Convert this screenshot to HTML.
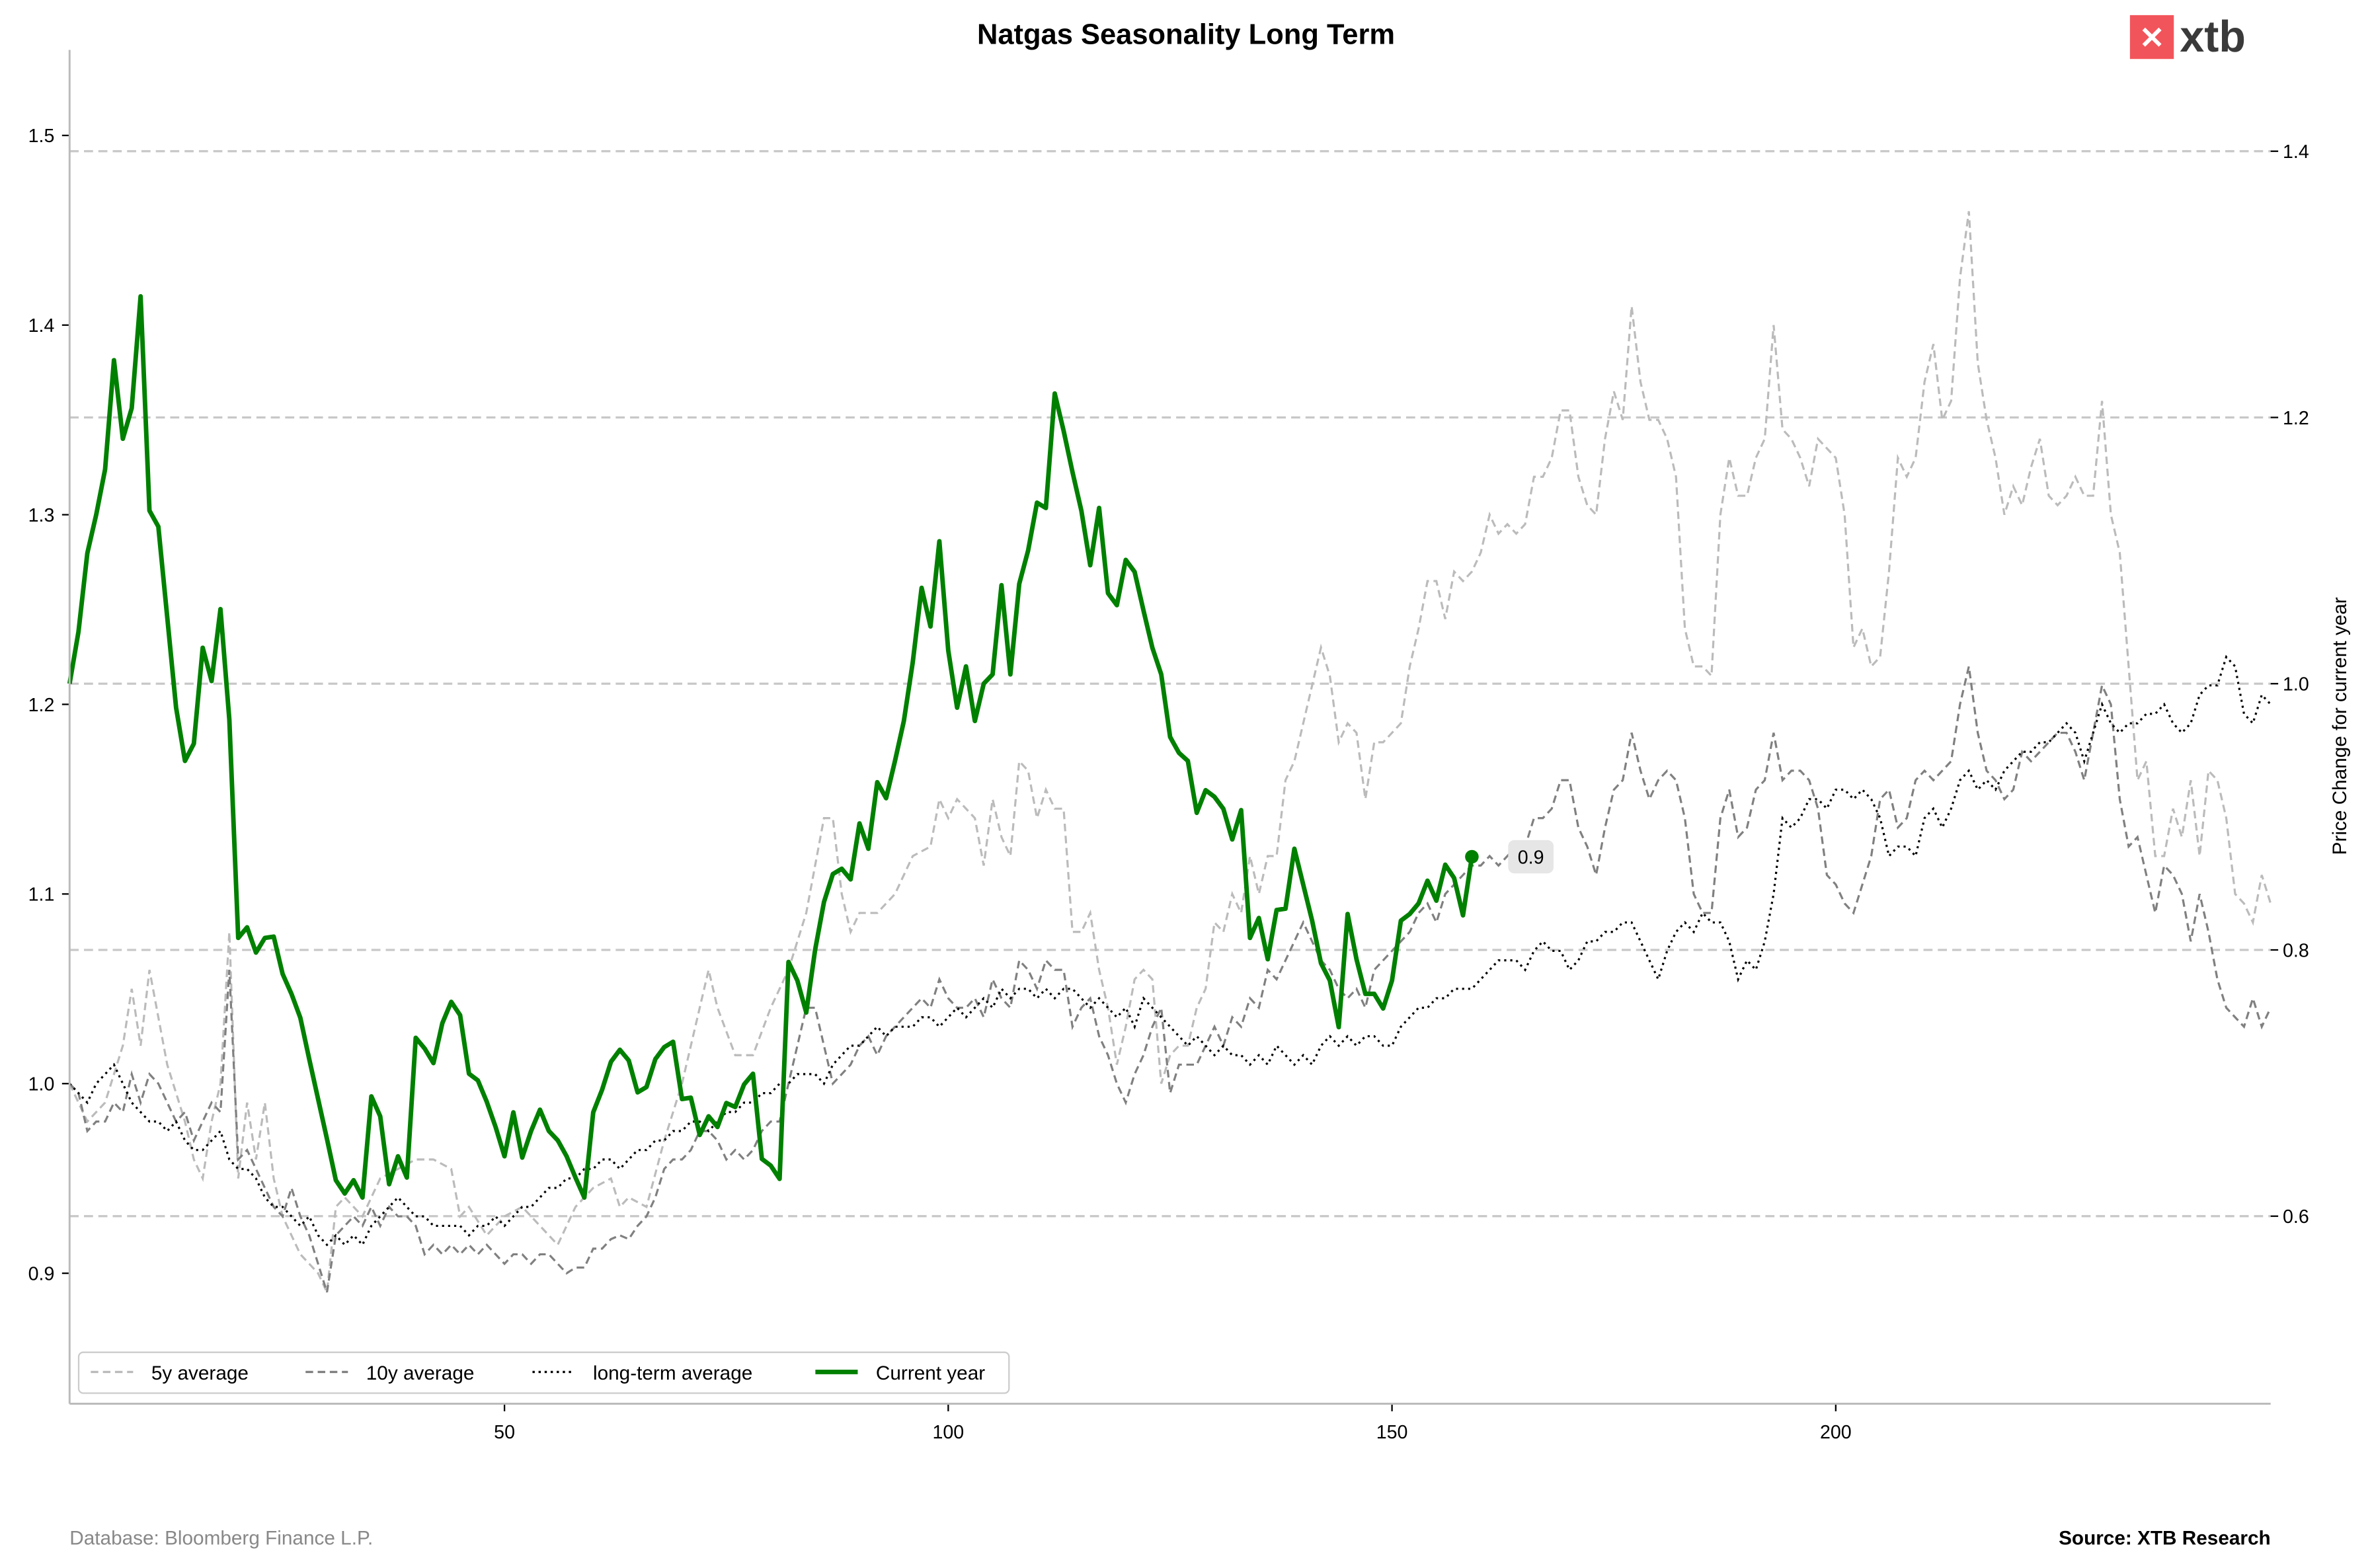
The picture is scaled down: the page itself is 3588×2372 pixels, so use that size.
<!DOCTYPE html>
<html><head><meta charset="utf-8"><style>
html,body{margin:0;padding:0;background:#fff;}
svg{display:block;font-family:"Liberation Sans",Arial,sans-serif;}
</style></head><body>
<svg id="chart" width="3588" height="2372" viewBox="0 0 1568 1036.6" xmlns="http://www.w3.org/2000/svg">
<rect width="1568" height="1036.6" fill="#fff"/>
<text x="784" y="29" text-anchor="middle" font-size="19" font-weight="bold" fill="#000">Natgas Seasonality Long Term</text>
<g>
<rect x="1408" y="10" width="29" height="29" fill="#f2545b"/>
<text x="1422.5" y="32" text-anchor="middle" font-size="20" font-weight="bold" fill="#fff">✕</text>
<text x="1441" y="34" font-size="29" font-weight="bold" fill="#3a3a3a">xtb</text>
</g>
<g id="grid"></g>
<g id="series"></g>
<g id="axes"></g>
<text transform="translate(1551,480) rotate(-90)" text-anchor="middle" font-size="13" fill="#000">Price Change for current year</text>
<g>
<rect x="52" y="894" width="615" height="27" rx="3" fill="#fff" stroke="#ccc" stroke-width="1"/>
<g><line x1="60" y1="907" x2="88" y2="907" stroke="#bbb" stroke-width="1.5" stroke-dasharray="5,3"/><text x="100" y="912" font-size="13">5y average</text></g>
<g><line x1="202" y1="907" x2="230" y2="907" stroke="#808080" stroke-width="1.5" stroke-dasharray="5,3"/><text x="242" y="912" font-size="13">10y average</text></g>
<g><line x1="352" y1="907" x2="380" y2="907" stroke="#000" stroke-width="1.5" stroke-dasharray="1.5,2.5"/><text x="392" y="912" font-size="13">long-term average</text></g>
<g><line x1="539" y1="907" x2="567" y2="907" stroke="#008000" stroke-width="3"/><text x="579" y="912" font-size="13">Current year</text></g>
</g>
<text x="46" y="1021" font-size="13" fill="#888">Database: Bloomberg Finance L.P.</text>
<text x="1501" y="1021" text-anchor="end" font-size="13" font-weight="bold" fill="#000">Source: XTB Research</text>
</svg>
<script>
const avgDays5y = [1,3,5,7,8,9,10,12,14,15,16,17,18,19,20,21,22,23,24,25,26,27,28,29,30,31,32,34,36,38,40,42,44,45,46,48,50,52,54,56,58,60,62,63,64,66,68,70,72,73,74,76,78,80,82,84,86,87,88,89,90,92,94,96,98,99,100,101,103,104,105,106,107,108,109,110,111,112,113,114,115,116,117,118,119,120,121,122,123,124,125,126,127,128,129,130,131,132,133,134,135,136,137,138,139,140,141,142,143,144,145,146,147,148,149,150,151,152,153,154,155,156,157,158,159,160,161,162,163,164,165,166,167,168,169,170,171,172,173,174,175,176,177,178,179,180,181,182,183,184,185,186,187,188,189,190,191,192,193,194,195,196,197,198,199,200,201,202,203,204,205,206,207,208,209,210,211,212,213,214,215,216,217,218,219,220,221,222,223,224,225,226,227,228,229,230,231,232,233,234,235,236,237,238,239,240,241,242,243,244,245,246,247,248,249];
const avg5y = [1.0,0.98,0.99,1.02,1.05,1.02,1.06,1.01,0.98,0.96,0.95,0.98,1.0,1.08,0.95,0.99,0.96,0.99,0.95,0.93,0.92,0.91,0.905,0.9,0.89,0.935,0.94,0.93,0.95,0.955,0.96,0.96,0.955,0.93,0.935,0.92,0.93,0.935,0.925,0.915,0.935,0.945,0.95,0.935,0.94,0.935,0.97,1.0,1.04,1.06,1.04,1.015,1.015,1.04,1.06,1.09,1.14,1.14,1.1,1.08,1.09,1.09,1.1,1.12,1.125,1.15,1.14,1.15,1.14,1.115,1.15,1.13,1.12,1.17,1.165,1.14,1.155,1.145,1.145,1.08,1.08,1.09,1.06,1.04,1.01,1.03,1.055,1.06,1.055,1.0,1.015,1.02,1.02,1.04,1.05,1.085,1.08,1.1,1.09,1.12,1.1,1.12,1.12,1.16,1.17,1.19,1.21,1.23,1.215,1.18,1.19,1.185,1.15,1.18,1.18,1.185,1.19,1.22,1.24,1.265,1.265,1.245,1.27,1.265,1.27,1.28,1.3,1.29,1.295,1.29,1.295,1.32,1.32,1.33,1.355,1.355,1.32,1.305,1.3,1.34,1.365,1.35,1.41,1.37,1.35,1.35,1.34,1.32,1.24,1.22,1.22,1.215,1.3,1.33,1.31,1.31,1.33,1.34,1.4,1.345,1.34,1.33,1.315,1.34,1.335,1.33,1.3,1.23,1.24,1.22,1.225,1.27,1.33,1.32,1.33,1.37,1.39,1.35,1.36,1.425,1.46,1.38,1.35,1.33,1.3,1.315,1.305,1.325,1.34,1.31,1.305,1.31,1.32,1.31,1.31,1.36,1.3,1.28,1.22,1.16,1.17,1.12,1.12,1.145,1.13,1.16,1.12,1.165,1.16,1.14,1.1,1.095,1.085,1.11,1.095];
const avg10y = [1.0,0.995,0.975,0.98,0.98,0.99,0.985,1.005,0.99,1.005,1.0,0.99,0.98,0.985,0.97,0.98,0.99,0.985,1.06,0.96,0.965,0.955,0.945,0.935,0.93,0.945,0.93,0.92,0.905,0.89,0.92,0.925,0.93,0.925,0.935,0.925,0.935,0.93,0.93,0.925,0.91,0.915,0.91,0.915,0.91,0.915,0.91,0.915,0.91,0.905,0.91,0.91,0.905,0.91,0.91,0.905,0.9,0.903,0.903,0.913,0.913,0.918,0.92,0.918,0.925,0.93,0.94,0.955,0.96,0.96,0.965,0.975,0.975,0.97,0.96,0.965,0.96,0.965,0.975,0.98,0.98,1.0,1.02,1.04,1.04,1.02,1.0,1.005,1.01,1.02,1.025,1.015,1.025,1.03,1.035,1.04,1.045,1.04,1.055,1.045,1.04,1.04,1.045,1.035,1.055,1.045,1.04,1.065,1.06,1.05,1.065,1.06,1.06,1.03,1.04,1.045,1.025,1.015,1.0,0.99,1.005,1.015,1.03,1.04,0.995,1.01,1.01,1.01,1.02,1.03,1.02,1.035,1.03,1.045,1.04,1.06,1.055,1.065,1.075,1.085,1.075,1.065,1.06,1.05,1.045,1.05,1.04,1.06,1.065,1.07,1.075,1.08,1.09,1.095,1.085,1.1,1.105,1.11,1.115,1.115,1.12,1.115,1.12,1.125,1.125,1.14,1.14,1.145,1.16,1.16,1.135,1.125,1.11,1.135,1.155,1.16,1.185,1.165,1.15,1.16,1.165,1.16,1.14,1.1,1.09,1.09,1.14,1.155,1.13,1.135,1.155,1.16,1.185,1.16,1.165,1.165,1.16,1.145,1.11,1.105,1.095,1.09,1.105,1.12,1.15,1.155,1.135,1.14,1.16,1.165,1.16,1.165,1.17,1.2,1.22,1.185,1.165,1.16,1.15,1.155,1.175,1.17,1.175,1.18,1.185,1.185,1.175,1.16,1.185,1.21,1.2,1.15,1.125,1.13,1.11,1.09,1.115,1.11,1.1,1.075,1.1,1.08,1.055,1.04,1.035,1.03,1.045,1.03,1.04];
const avgLT = [1.0,0.995,0.99,1.0,1.005,1.01,1.0,0.99,0.985,0.98,0.98,0.975,0.98,0.97,0.965,0.965,0.97,0.975,0.96,0.955,0.955,0.95,0.94,0.935,0.935,0.93,0.925,0.93,0.92,0.915,0.92,0.915,0.92,0.915,0.925,0.93,0.935,0.94,0.935,0.93,0.93,0.925,0.925,0.925,0.925,0.92,0.925,0.925,0.93,0.925,0.93,0.935,0.935,0.94,0.945,0.945,0.95,0.95,0.955,0.955,0.96,0.96,0.955,0.96,0.965,0.965,0.97,0.97,0.975,0.975,0.98,0.98,0.975,0.98,0.985,0.985,0.99,0.99,0.995,0.995,1.0,1.0,1.005,1.005,1.005,1.0,1.01,1.015,1.02,1.02,1.025,1.03,1.025,1.03,1.03,1.03,1.035,1.035,1.03,1.035,1.04,1.035,1.04,1.045,1.04,1.05,1.045,1.05,1.05,1.045,1.05,1.045,1.05,1.05,1.045,1.04,1.045,1.04,1.035,1.04,1.03,1.045,1.04,1.035,1.03,1.025,1.02,1.025,1.02,1.015,1.02,1.015,1.015,1.01,1.015,1.01,1.02,1.015,1.01,1.015,1.01,1.02,1.025,1.02,1.025,1.02,1.025,1.025,1.02,1.02,1.03,1.035,1.04,1.04,1.045,1.045,1.05,1.05,1.05,1.055,1.06,1.065,1.065,1.065,1.06,1.07,1.075,1.07,1.07,1.06,1.065,1.075,1.075,1.08,1.08,1.085,1.085,1.075,1.065,1.055,1.07,1.08,1.085,1.08,1.09,1.085,1.085,1.075,1.055,1.065,1.06,1.075,1.1,1.14,1.135,1.14,1.15,1.15,1.145,1.155,1.155,1.15,1.155,1.15,1.14,1.12,1.125,1.125,1.12,1.14,1.145,1.135,1.145,1.16,1.165,1.155,1.16,1.155,1.165,1.17,1.175,1.175,1.18,1.18,1.185,1.19,1.185,1.17,1.185,1.2,1.19,1.185,1.19,1.19,1.195,1.195,1.2,1.19,1.185,1.19,1.205,1.21,1.21,1.225,1.22,1.195,1.19,1.205,1.2];
const currentYear = [1.0,1.039,1.098,1.127,1.161,1.243,1.184,1.207,1.291,1.13,1.118,1.05,0.982,0.942,0.955,1.027,1.002,1.056,0.973,0.809,0.817,0.798,0.809,0.81,0.782,0.767,0.749,0.718,0.688,0.658,0.627,0.617,0.627,0.614,0.69,0.675,0.624,0.645,0.629,0.734,0.726,0.715,0.745,0.761,0.751,0.707,0.702,0.686,0.667,0.645,0.678,0.644,0.664,0.68,0.664,0.657,0.645,0.629,0.614,0.678,0.695,0.716,0.725,0.717,0.693,0.697,0.718,0.727,0.731,0.688,0.689,0.661,0.675,0.667,0.685,0.682,0.699,0.707,0.643,0.638,0.628,0.791,0.777,0.753,0.8,0.836,0.857,0.861,0.853,0.895,0.876,0.926,0.914,0.942,0.972,1.016,1.072,1.043,1.107,1.025,0.982,1.013,0.972,1.0,1.007,1.074,1.007,1.075,1.1,1.136,1.132,1.218,1.19,1.159,1.13,1.089,1.132,1.068,1.059,1.093,1.084,1.055,1.027,1.007,0.96,0.948,0.942,0.903,0.92,0.915,0.906,0.883,0.905,0.809,0.824,0.793,0.83,0.831,0.876,0.849,0.822,0.79,0.777,0.742,0.827,0.793,0.767,0.767,0.756,0.777,0.822,0.827,0.835,0.852,0.837,0.864,0.854,0.826,0.87];
const leftTicks = [0.9,1.0,1.1,1.2,1.3,1.4,1.5];
const rightTicks = [0.6,0.8,1.0,1.2,1.4];
const xTicks = [50,100,150,200];

const PX0=46, PX1=1501, PY0=33, PY1=928;
const XMIN=1.0, XMAX=249.0;
const LMIN=0.8312, LMAX=1.5451;
const RMIN=0.4591, RMAX=1.4761;
const sx = d => PX0 + (d-XMIN)/(XMAX-XMIN)*(PX1-PX0);
const syL = v => PY1 - (v-LMIN)/(LMAX-LMIN)*(PY1-PY0);
const syR = v => PY1 - (v-RMIN)/(RMAX-RMIN)*(PY1-PY0);
const NS='http://www.w3.org/2000/svg';
function mk(tag, attrs, parent){const e=document.createElementNS(NS,tag);for(const k in attrs)e.setAttribute(k,attrs[k]);parent.appendChild(e);return e;}
const grid=document.getElementById('grid'), series=document.getElementById('series'), axes=document.getElementById('axes');

rightTicks.forEach(t=>{
  const y=syR(t);
  const g=mk('line',{x1:PX0,x2:PX1,y1:y,y2:y,stroke:'#c8c8c8','stroke-width':1.4,'stroke-dasharray':'6,3.5'},grid);
  
  
  const tk=mk('line',{x1:PX1,x2:PX1+5,y1:y,y2:y,stroke:'#000','stroke-width':1},axes);
  
  
  const tx=mk('text',{x:PX1+8,y:y+4.5,'font-size':12.5},axes);
  tx.textContent=t.toFixed(1);
  
  
});
leftTicks.forEach(t=>{
  const y=syL(t);
  const tk=mk('line',{x1:PX0-5,x2:PX0,y1:y,y2:y,stroke:'#000','stroke-width':1},axes);
  
  
  const tx=mk('text',{x:PX0-10,y:y+4.5,'font-size':12.5,'text-anchor':'end'},axes);
  tx.textContent=t.toFixed(1);
  
  
});
xTicks.forEach(t=>{
  const x=sx(t);
  const tk=mk('line',{x1:x,x2:x,y1:PY1,y2:PY1+5,stroke:'#000','stroke-width':1},axes);
  
  
  const tx=mk('text',{x:x,y:PY1+23,'font-size':12.5,'text-anchor':'middle'},axes);
  tx.textContent=String(t);
  
  
});
const ls=mk('line',{x1:PX0,x2:PX0,y1:PY0,y2:PY1,stroke:'#bbb','stroke-width':1.3},axes);


const bs=mk('line',{x1:PX0,x2:PX1,y1:PY1,y2:PY1,stroke:'#bbb','stroke-width':1.3},axes);



function path(days, vals, sy){return days.map((d,i)=>(i?'L':'M')+sx(d).toFixed(2)+','+sy(vals[i]).toFixed(2)).join('');}
const seq = n => Array.from({length:n},(_,i)=>i+1);

const p5=mk('path',{d:path(avgDays5y,avg5y,syL),fill:'none',stroke:'#bbb','stroke-width':1.4,'stroke-dasharray':'5,3'},series);


const p10=mk('path',{d:path(seq(avg10y.length),avg10y,syL),fill:'none',stroke:'#808080','stroke-width':1.4,'stroke-dasharray':'5,3'},series);


const plt=mk('path',{d:path(seq(avgLT.length),avgLT,syL),fill:'none',stroke:'#000','stroke-width':1.4,'stroke-dasharray':'1.4,2.6'},series);


const pc=mk('path',{d:path(seq(currentYear.length),currentYear,syR),fill:'none',stroke:'#008000','stroke-width':3,'stroke-linejoin':'round'},series);



const lastD=currentYear.length, lastV=currentYear[lastD-1];
const dot=mk('circle',{cx:sx(lastD),cy:syR(lastV),r:4.5,fill:'#008000'},series);


const lb=mk('rect',{x:sx(lastD)+24,y:syR(lastV)-11,width:30,height:22,rx:4,fill:'#e6e6e6'},series);


const lt=mk('text',{x:sx(lastD)+39,y:syR(lastV)+4.5,'font-size':12.5,'text-anchor':'middle'},series);
lt.textContent=lastV.toFixed(1);


</script>
</body></html>
